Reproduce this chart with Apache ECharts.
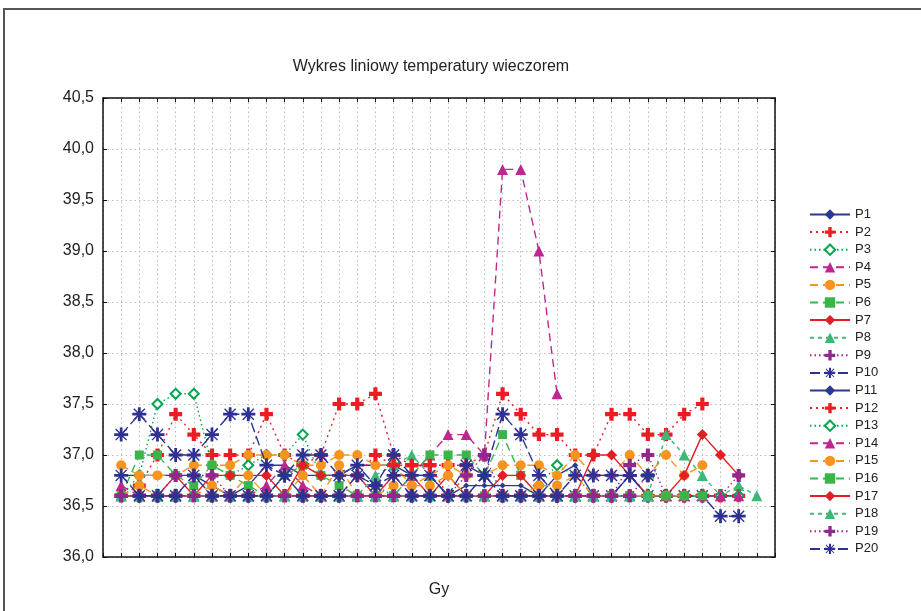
<!DOCTYPE html>
<html>
<head>
<meta charset="utf-8">
<script src="https://cdn.jsdelivr.net/npm/echarts@6/dist/echarts.min.js"></script>
<style>html,body{margin:0;padding:0;background:#fff}#c{width:921px;height:611px}</style>
</head>
<body>
<div id="c"></div>
<script>
// ---- data (index 1..36 along x) ----
var xName = 'Gy';
var yTicks = [36.0, 36.5, 37.0, 37.5, 38.0, 38.5, 39.0, 39.5, 40.0, 40.5];
var seriesNames = ['P1','P2','P3','P4','P5','P6','P7','P8','P9','P10','P11','P12','P13','P14','P15','P16','P17','P18','P19','P20'];
var n = null;
var P1  = [36.8,36.8,36.8,36.8,36.8,36.7,36.6,36.7,36.9,36.9,36.8,36.8,36.8,36.9,36.9,36.9,36.8,36.8,36.6,36.7,36.7,36.7,36.7,36.6,36.8,36.9,36.6,36.6,36.8,36.6,36.6,36.6,36.6,36.6,36.6,n];
var P2  = [36.6,36.7,37.0,37.4,37.2,37.0,37.0,37.0,37.4,37.0,36.9,37.0,37.5,37.5,37.6,37.0,36.9,36.9,36.9,36.9,37.0,37.6,37.4,37.2,37.2,37.0,37.0,37.4,37.4,37.2,37.2,37.4,37.5,n,n,n];
var P3  = [36.6,36.8,37.5,37.6,37.6,36.9,36.8,36.9,37.0,37.0,37.2,36.8,36.8,36.8,36.7,36.6,36.6,36.6,36.6,36.6,36.6,36.6,36.6,36.7,36.9,36.8,36.6,36.6,36.6,36.6,36.6,36.6,36.6,36.6,36.6,n];
var P4  = [36.7,36.6,36.6,36.6,36.6,36.6,36.6,36.6,36.7,36.9,36.7,36.6,36.6,36.6,36.6,36.6,36.8,37.0,37.2,37.2,37.0,39.8,39.8,39.0,37.6,n,n,n,n,n,n,n,n,n,n,n];
var P5  = [36.9,36.8,36.8,36.8,36.9,36.9,36.9,37.0,37.0,37.0,36.9,36.9,37.0,37.0,36.9,36.9,36.7,36.8,36.9,36.8,36.8,36.9,36.9,36.9,36.8,37.0,36.8,36.8,37.0,36.8,37.0,36.8,36.9,n,n,n];
var P6  = [36.6,37.0,37.0,36.8,36.7,36.9,36.8,36.7,36.6,36.8,36.9,36.8,36.7,36.6,36.6,36.6,36.8,37.0,37.0,37.0,36.8,37.2,36.8,36.6,36.6,36.6,36.6,36.6,36.6,36.6,36.6,36.6,36.6,n,n,n];
var P7  = [36.6,36.6,36.6,36.8,36.6,36.8,36.8,36.8,36.8,36.6,36.9,36.8,36.8,36.8,36.6,36.8,36.8,36.6,36.8,36.6,36.6,36.8,36.8,36.6,36.6,36.6,37.0,37.0,36.8,36.6,36.6,36.8,37.2,37.0,36.8,n];
var P8  = [36.6,36.6,36.6,36.6,36.6,36.6,36.6,36.6,36.6,36.6,36.6,36.6,36.6,36.6,36.8,36.9,37.0,36.8,36.6,36.6,36.6,36.6,36.6,36.6,36.6,36.6,36.6,36.6,36.6,36.6,37.2,37.0,36.8,36.6,36.7,36.6];
var P9  = [36.6,36.6,36.6,36.8,36.8,36.8,36.6,36.6,36.6,36.6,36.6,36.6,36.6,36.6,36.6,36.6,36.6,36.6,36.6,36.8,37.0,36.6,36.6,36.6,36.6,36.6,36.6,36.6,36.9,37.0,36.6,36.6,36.6,36.6,36.8,n];
var P10 = [37.2,37.4,37.2,37.0,37.0,37.2,37.4,37.4,36.9,36.8,37.0,37.0,36.8,36.9,36.7,37.0,36.8,36.8,36.6,36.9,36.8,37.4,37.2,36.8,36.6,36.6,36.6,36.6,36.8,36.6,36.6,36.6,36.6,36.4,36.4,n];
var P11 = [36.6,36.6,36.6,36.6,36.6,36.6,36.6,36.6,36.6,36.6,36.6,36.6,36.6,36.6,36.6,36.6,36.6,36.6,36.6,36.6,36.6,36.6,36.6,36.6,36.6,36.6,36.6,36.6,36.6,36.6,36.6,36.6,36.6,36.6,36.6,n];
var P12 = [36.6,36.6,36.6,36.6,36.6,36.6,36.6,36.6,36.6,36.6,36.6,36.6,36.6,36.8,37.0,36.9,36.9,36.9,36.6,36.6,36.6,36.6,36.6,36.6,36.6,36.6,36.6,36.6,36.6,36.6,36.6,36.6,36.6,36.6,36.6,n];
var P13 = [36.6,36.6,36.6,36.6,36.6,36.6,36.6,36.6,36.6,36.6,36.6,36.6,36.6,36.6,36.6,36.6,36.6,36.6,36.6,36.6,36.6,36.6,36.6,36.6,36.6,36.6,36.6,36.6,36.6,36.6,36.6,36.6,36.6,36.6,36.6,n];
var P14 = [36.6,36.6,36.6,36.6,36.6,36.6,36.6,36.6,36.6,36.6,36.6,36.6,36.6,36.6,36.6,36.6,36.6,36.6,36.6,36.6,36.6,36.6,36.6,36.6,36.6,36.6,36.6,36.6,36.6,36.6,36.6,36.6,36.6,36.6,36.6,n];
var P15 = [36.6,36.7,36.6,36.6,36.6,36.7,36.6,36.8,36.6,36.6,36.8,36.6,36.9,36.6,36.6,36.7,36.7,36.7,36.8,36.6,36.6,36.6,36.6,36.7,36.7,36.8,36.6,36.6,36.6,36.6,36.6,36.6,n,n,n,n];
var P16 = [36.6,36.6,36.6,36.6,36.6,36.6,36.6,36.6,36.6,36.6,36.6,36.6,36.6,36.6,36.6,36.6,36.6,36.6,36.6,36.6,36.6,36.6,36.6,36.6,36.6,36.6,36.6,36.6,36.6,36.6,36.6,36.6,36.6,n,n,n];
var P17 = [36.6,36.6,36.6,36.6,36.6,36.6,36.6,36.6,36.6,36.6,36.6,36.6,36.6,36.6,36.6,36.6,36.6,36.6,36.6,36.6,36.6,36.6,36.6,36.6,36.6,36.6,36.6,36.6,n,n,n,n,n,n,n,n];
var P18 = [36.6,36.6,36.6,36.6,36.6,36.6,36.6,36.6,36.6,36.6,36.6,36.6,36.6,36.6,36.6,36.6,36.6,36.6,36.6,36.6,36.6,36.6,36.6,36.6,36.6,36.6,36.6,36.6,36.6,36.6,n,n,n,n,n,n];
var P19 = [36.6,36.6,36.6,36.6,36.6,36.6,36.6,36.6,36.6,36.6,36.6,36.6,36.6,36.6,36.6,36.6,36.6,36.6,36.6,36.6,36.6,36.6,36.6,36.6,36.6,36.6,36.6,36.6,36.6,36.8,n,n,n,n,n,n];
var P20 = [36.8,36.6,36.6,36.6,36.8,36.6,36.6,36.6,36.6,36.8,36.6,36.6,36.6,36.8,36.7,36.8,36.6,36.6,36.6,36.6,36.8,36.6,36.6,36.6,36.6,36.8,36.8,36.8,36.8,36.8,n,n,n,n,n,n];
var seriesValues = [P1,P2,P3,P4,P5,P6,P7,P8,P9,P10,P11,P12,P13,P14,P15,P16,P17,P18,P19,P20];

// ---- styles (repeat every 10 series) ----
var PLUS = 'path://M3.4,0H6.6V3.4H10V6.6H6.6V10H3.4V6.6H0V3.4H3.4Z';
var AST = 'path://M4,0H6V4H10V6H6V10H4V6H0V4H4Z M1.4,0.7L9.3,8.6L8.6,9.3L0.7,1.4Z M8.6,0.7L9.3,1.4L1.4,9.3L0.7,8.6Z';
var styles = [
  {c:'#2b3990', sym:'diamond', size:6, type:'solid'},
  {c:'#ed1c24', sym:PLUS, size:13, type:[2,4]},
  {c:'#00a651', sym:'emptyDiamond', size:10, type:[1.5,3]},
  {c:'#c0268f', sym:'triangle', size:11, type:[8,5]},
  {c:'#f7941d', sym:'circle', size:10, type:[8,5]},
  {c:'#39b54a', sym:'rect', size:9, type:[8,5]},
  {c:'#e31e24', sym:'diamond', size:11, type:'solid'},
  {c:'#3cb878', sym:'triangle', size:11, type:[4,4]},
  {c:'#92278f', sym:PLUS, size:13, type:[1.5,3]},
  {c:'#2e3192', sym:AST, size:14, type:[10,4]}
];

var series = seriesNames.map(function(name, k){
  var s = styles[k % 10];
  var data = [];
  seriesValues[k].forEach(function(v, i){ if (v !== null) data.push([i + 1, v]); });
  return {
    name: name, type: 'line', data: data,
    symbol: s.sym, symbolSize: s.size, showAllSymbol: true,
    lineStyle: {color: s.c, width: 1.4, type: s.type},
    itemStyle: s.sym === 'emptyDiamond' ? {color: s.c, borderColor: s.c, borderWidth: 1.4} : {color: s.c, borderWidth: 0},
    emphasis: {disabled: true},
    animation: false,
    z: 2 + k
  };
});

var fnt = 'Liberation Sans, Arial, sans-serif';
var chart = echarts.init(document.getElementById('c'), null, {renderer: 'canvas'});
chart.setOption({
  backgroundColor: '#fff',
  animation: false,
  title: {text: 'Wykres liniowy temperatury wieczorem', left: 426, top: 54, textAlign: 'center',
    textStyle: {fontFamily: fnt, fontSize: 16, fontWeight: 'normal', color: '#222'}},
  graphic: [{type: 'rect', shape: {x: 4, y: 9, width: 1000, height: 1000}, style: {fill: 'none', stroke: '#555', lineWidth: 2}, silent: true}],
  legend: {
    orient: 'vertical', left: 804, top: 203, itemWidth: 40, itemHeight: 13, itemGap: 4.6,
    textStyle: {fontFamily: fnt, fontSize: 13, color: '#222'},
    data: seriesNames
  },
  grid: {left: 103, top: 98, width: 672, height: 459, show: false},
  xAxis: [
    {type: 'value', min: 0, max: 37, interval: 1, position: 'bottom',
      name: xName, nameLocation: 'middle', nameGap: 25,
      nameTextStyle: {fontFamily: fnt, fontSize: 16, color: '#222'},
      axisLine: {show: true, onZero: false, lineStyle: {color: '#111', width: 1.5}},
      axisTick: {show: true, inside: true, length: 4, lineStyle: {color: '#111'}},
      axisLabel: {show: false},
      splitLine: {show: true, lineStyle: {color: '#bdbdbd', type: [1.5, 3], width: 1}}},
    {type: 'value', min: 0, max: 37, interval: 1, position: 'top',
      axisLine: {show: true, onZero: false, lineStyle: {color: '#111', width: 1.5}},
      axisTick: {show: true, inside: true, length: 4, lineStyle: {color: '#111'}},
      axisLabel: {show: false}, splitLine: {show: false}}
  ],
  yAxis: [
    {type: 'value', min: 36.0, max: 40.5, interval: 0.5, position: 'left',
      axisLine: {show: true, onZero: false, lineStyle: {color: '#111', width: 1.5}},
      axisTick: {show: true, inside: true, length: 4, lineStyle: {color: '#111'}},
      axisLabel: {margin: 9, fontFamily: fnt, fontSize: 16, color: '#222',
        formatter: function(v){ return v.toFixed(1).replace('.', ','); }},
      splitLine: {show: true, lineStyle: {color: '#bdbdbd', type: [1.5, 3], width: 1}}},
    {type: 'value', min: 36.0, max: 40.5, interval: 0.5, position: 'right',
      axisLine: {show: true, onZero: false, lineStyle: {color: '#111', width: 1.5}},
      axisTick: {show: true, inside: true, length: 4, lineStyle: {color: '#111'}},
      axisLabel: {show: false}, splitLine: {show: false}}
  ],
  series: series
});
</script>
</body>
</html>
